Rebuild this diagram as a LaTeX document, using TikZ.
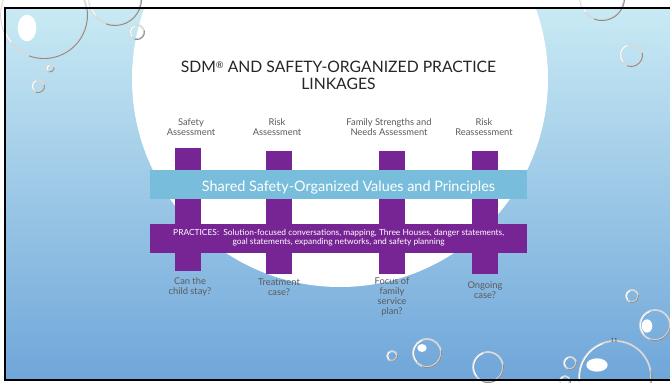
\documentclass[tikz,border=0pt]{standalone}
\usepackage{fontspec}
\setmainfont{Lato}
\definecolor{bgtop}{HTML}{C9EAF4}
\definecolor{bgmid}{HTML}{A3CDE9}
\definecolor{bgbot}{HTML}{6FA6D9}
\definecolor{purp}{HTML}{772594}
\definecolor{lblue}{HTML}{78BEDC}
\definecolor{labgray}{HTML}{5A5A5A}
\definecolor{bublight}{HTML}{D8D8D8}
\definecolor{bubdark}{HTML}{8C8C8C}
\tikzset{
  vbar/.style={fill=purp},
  labeltext/.style={text=labgray, align=center, font=\fontsize{7}{7.5}\selectfont, inner sep=0pt},
  bubring/.style={draw=bublight, line width=1.3pt},
  bubshade/.style={draw=bubdark, line width=0.7pt},
  bubshine/.style={draw=white, line width=0.7pt},
}
\newcommand\mybub[3]{%
  \draw[bubring] (#1,#2) circle[radius=#3*0.75pt];
  \draw[bubshade] (#1,#2) ++(-110:#3*0.75pt+0.4pt) arc[start angle=-110, end angle=10, radius=#3*0.75pt+0.4pt];
  \draw[bubshine] (#1,#2) ++(110:#3*0.75pt-0.4pt) arc[start angle=110, end angle=220, radius=#3*0.75pt-0.4pt];
}
\begin{document}
\begin{tikzpicture}[x=0.75pt,y=-0.75pt]
\useasboundingbox (0,0) rectangle (670,382);
\clip (0,0) rectangle (670,382);
\fill[white] (0,0) rectangle (670,382);
\shade[top color=bgtop, middle color=bgmid, bottom color=bgbot] (5,8) rectangle (690,380);
\fill[white] (340,79) circle[radius=156pt];
% bubbles
\mybub{44}{15}{43}
\fill[white] (27,28) ellipse[x radius=7pt, y radius=10pt];
\mybub{115}{-1}{26}
\mybub{137}{32}{7}
\mybub{50}{68}{3.5}
\mybub{38}{86}{6}
\mybub{602}{-2}{22}
\mybub{631}{55}{11}
\mybub{632}{296}{6}
\mybub{655}{325}{15}
\fill[white] (647,326) ellipse[x radius=4pt, y radius=5pt];
\mybub{615}{377}{36}
\fill[white] (597,365) ellipse[x radius=8pt, y radius=5pt];
\mybub{570}{363}{6}
\mybub{565}{381}{5}
\mybub{392}{356}{5}
\mybub{427}{353}{14}
\fill[white] (422,348) ellipse[x radius=3.5pt, y radius=3pt];
\mybub{488}{367}{15}
% frame
\draw[line width=1.5pt] (690,8) -- (5,8) -- (5,380) -- (690,380);
% title
\node[align=center, font=\fontsize{11.8}{12.75}\selectfont, text=black!85, inner sep=0pt] (title) at (338.5,75.5)
  {SDM\raisebox{0.55ex}{\fontsize{7}{7}\selectfont ®} AND SAFETY-ORGANIZED PRACTICE\\LINKAGES};
% top labels
\node[labeltext] (t1) at (191,127) {Safety\\Assessment};
\node[labeltext] (t2) at (277,127) {Risk\\Assessment};
\node[labeltext] (t3) at (389,127) {Family Strengths and\\Needs Assessment};
\node[labeltext] (t4) at (484,127) {Risk\\Reassessment};
% vertical bars
\fill[vbar] (175,148) rectangle (201,271);
\fill[vbar] (266,151) rectangle (292,274);
\fill[vbar] (379,151) rectangle (405,274);
\fill[vbar] (472,151) rectangle (498,274);
% bands
\node[fill=lblue, minimum width=282.75pt, minimum height=21.75pt, inner sep=0pt] (values) at (338.5,184.5) {};
\node[text=white, font=\fontsize{10.8}{12}\selectfont, inner sep=0pt] (valtext) at (348.5,188) {Shared Safety-Organized Values and Principles};
\node[fill=purp, minimum width=282.75pt, minimum height=21.75pt, inner sep=0pt] (practices) at (338.5,238.5) {};
\node[text=white, align=center, font=\fontsize{6.3}{6.9}\selectfont, inner sep=0pt] (practext) at (338.7,237.5)
  {PRACTICES:\ \ Solution-focused conversations, mapping, Three Houses, danger statements,\\goal statements, expanding networks, and safety planning};
% bottom labels
\node[labeltext] (q1) at (190,287) {Can the\\child stay?};
\node[labeltext] (q2) at (279,287) {Treatment\\case?};
\node[labeltext] (q3) at (392,297) {Focus of\\family\\service\\plan?};
\node[labeltext] (q4) at (485,290.5) {Ongoing\\case?};
% page number
\node[text=black!70, font=\fontsize{4.5}{5}\selectfont, inner sep=0pt] (pnum) at (614,340) {11};
\end{tikzpicture}
\end{document}
